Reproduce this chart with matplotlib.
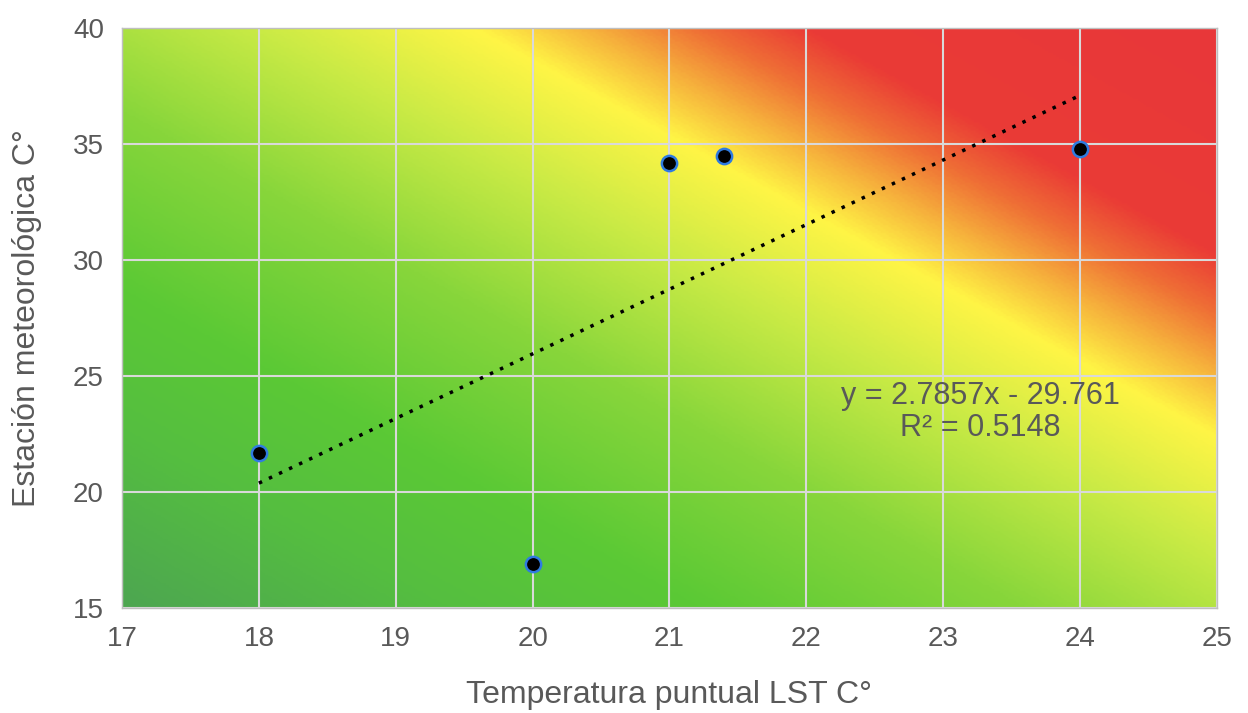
import numpy as np
import matplotlib.pyplot as plt
from matplotlib.colors import LinearSegmentedColormap

# ===================== DATA =====================
lst_temp = [18, 20, 21, 21.4, 24]          # Temperatura puntual LST C°
station_temp = [21.7, 16.9, 34.2, 34.5, 34.8]  # Estación meteorológica C°
slope, intercept = 2.7857, -29.761
r2 = 0.5148
x_ticks = [17, 18, 19, 20, 21, 22, 23, 24, 25]
y_ticks = [15, 20, 25, 30, 35, 40]

plt.rcParams['font.family'] = ['Liberation Sans', 'DejaVu Sans']
txt = '#595959'

fig = plt.figure(figsize=(12.48, 7.13), dpi=100)
ax = fig.add_axes([0.0978, 0.1473, 0.8772, 0.8134])

# background gradient (diagonal, green -> yellow -> red)
cmap = LinearSegmentedColormap.from_list('bg', [
    (0.00, '#4DA651'), (0.15, '#55BE40'), (0.27, '#5BC935'),
    (0.42, '#88D63B'), (0.55, '#C8EA45'), (0.655, '#FFF545'),
    (0.71, '#F6B03C'), (0.76, '#EF6E35'), (0.81, '#EA3B36'),
    (1.00, '#E8373A')])
W, H = 1095, 580
u, v = np.meshgrid(np.linspace(0, 1, 400), np.linspace(0, 1, 300))
t = (0.482 * u * W + 0.876 * v * H) / (0.482 * W + 0.876 * H)
ax.imshow(t, cmap=cmap, extent=[0, 1, 0, 1], origin='lower',
          transform=ax.transAxes, aspect='auto', zorder=0, vmin=0, vmax=1)

ax.set_xlim(17, 25)
ax.set_ylim(15, 40)
ax.set_xticks(x_ticks)
ax.set_yticks(y_ticks)
ax.grid(True, color='#D9D9D9', lw=1.5, zorder=1)
ax.tick_params(length=0, labelsize=20, labelcolor=txt, pad=13)
for s in ax.spines.values():
    s.set_color('#BFBFBF')
    s.set_linewidth(1)

# trendline
xl = np.array([min(lst_temp), max(lst_temp)])
ax.plot(xl, slope * xl + intercept, color='black', lw=2.5,
        linestyle=(0, (1, 2.2)), zorder=2)

ax.plot(lst_temp, station_temp, 'o', ms=11, mfc='black', mec='#2F7BE0',
        mew=1.8, zorder=3)

ax.text(23.27, 23.45, f'y = {slope}x - {abs(intercept)}\nR² = {r2}',
        ha='center', va='center', fontsize=22, color=txt, linespacing=1.05)

ax.set_xlabel('Temperatura puntual LST C°', fontsize=23, color=txt, labelpad=20)
ax.set_ylabel('Estación meteorológica C°', fontsize=23, color=txt, labelpad=22)

fig.savefig('out.png', dpi=100)
